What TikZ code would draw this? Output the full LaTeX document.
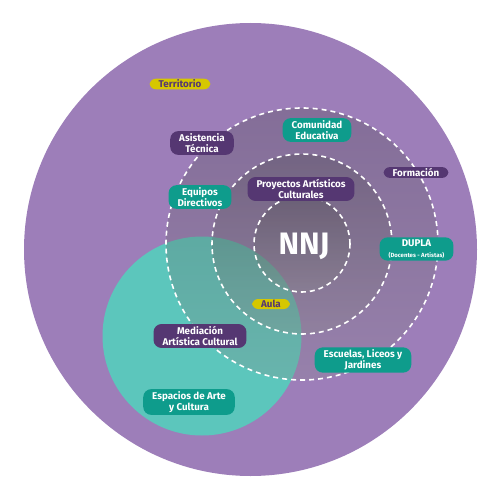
\documentclass[tikz,border=0pt]{standalone}
\usepackage{fontspec}
\setmainfont{Fira Sans}
\usepackage{tikz}
\usepackage{xcolor}
\definecolor{lilac}{HTML}{9D7EB9}
\definecolor{plum}{HTML}{553772}
\definecolor{shade}{HTML}{3C2858}
\definecolor{lagoon}{HTML}{5CC6BC}
\definecolor{jade}{HTML}{0E9C8C}
\definecolor{mustard}{HTML}{D6C700}

\begin{document}
\begin{tikzpicture}[x=1pt,y=-1pt,
  tag/.style={rounded corners=8pt,inner xsep=9pt,inner ysep=2pt,align=center,font=\fontsize{9.8}{11.6}\selectfont\bfseries},
  plumtag/.style={tag,fill=plum,text=white},
  jadetag/.style={tag,fill=jade,text=white},
  yellowtag/.style={tag,fill=mustard,text=plum,rounded corners=6pt,inner ysep=1.2pt},
  ring/.style={draw=white,line width=1.6pt,dash pattern=on 5pt off 4pt}]
\useasboundingbox (0,0) rectangle (500,500);
\coordinate (c) at (302,244);
\fill[lilac] (250.5,249.5) circle (226.5pt);
\fill[lagoon] (202,336) circle (99.5pt);
\foreach \r in {136,90,48}{
\fill[shade,fill opacity=0.15] (c) circle (\r pt);}
\foreach \r in {136,90,48}{
\draw[ring] (c) circle (\r pt);}
\node[text=white,font=\fontsize{31}{33}\selectfont\bfseries] (nnj) at (304,246) {NNJ};
\node[yellowtag] (territorio) at (180,84) {Territorio};
\node[plumtag] (asistencia) at (202,143) {Asistencia\\Técnica};
\node[jadetag] (comunidad) at (317,130) {Comunidad\\Educativa};
\node[jadetag] (equipos) at (200,197) {Equipos\\Directivos};
\node[plumtag] (proyectos) at (301,189) {Proyectos Artísticos\\Culturales};
\node[plumtag,rounded corners=6pt,inner ysep=1.2pt] (formacion) at (416,172.5) {Formación};
\node[jadetag] (dupla) at (416.5,249) {DUPLA\\{\fontsize{6}{7}\selectfont(Docentes - Artistas)}};
\node[yellowtag] (aula) at (271,304) {Aula};
\node[plumtag] (mediacion) at (200,336) {Mediación\\Artística Cultural};
\node[jadetag] (escuelas) at (363,360) {Escuelas, Liceos y\\Jardines};
\node[jadetag] (espacios) at (189,402) {Espacios de Arte\\y Cultura};
\end{tikzpicture}
\end{document}
